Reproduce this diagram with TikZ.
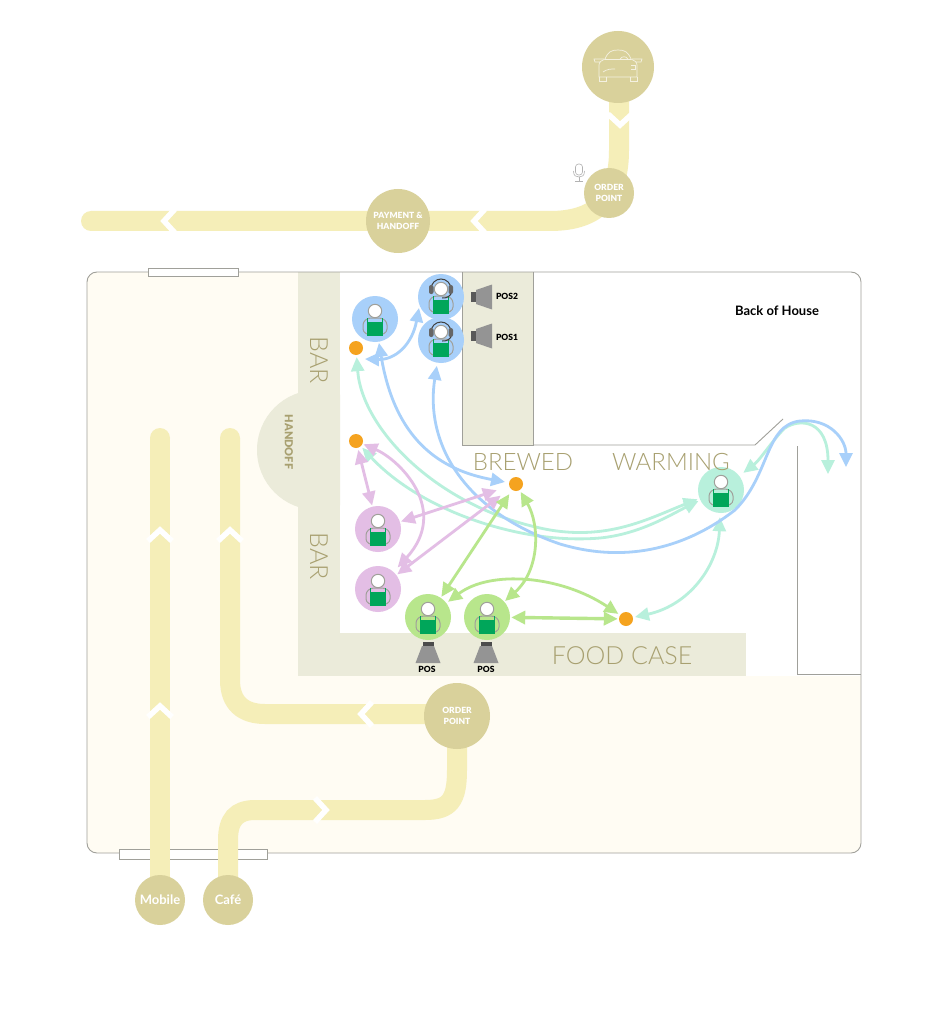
\documentclass[tikz,border=0pt]{standalone}
\usepackage{fontspec}
\setmainfont{Lato}
\newfontfamily\thinfont[UprightFont=* Light]{Lato}
\newfontfamily\heavyfont[UprightFont=* Black]{Lato}
\usetikzlibrary{arrows.meta}

\definecolor{floorcol}{HTML}{FFFCF3}
\definecolor{countercol}{HTML}{EBEBDA}
\definecolor{pathcol}{HTML}{F5EEB8}
\definecolor{stopcol}{HTML}{D9D19B}
\definecolor{labelcol}{HTML}{A8A070}
\definecolor{edgecol}{HTML}{A0A09A}
\definecolor{bluecol}{HTML}{A8D0FA}
\definecolor{mintcol}{HTML}{B8F0DC}
\definecolor{pinkcol}{HTML}{E3BEE5}
\definecolor{limecol}{HTML}{B8E68C}
\definecolor{dotcol}{HTML}{F5A31F}
\definecolor{aproncol}{HTML}{00A65A}

\tikzset{
  route/.style={pathcol,line width=20pt},
  stop/.style={circle,fill=stopcol,inner sep=0pt,minimum size=#1,text=white,align=center,font=\heavyfont\fontsize{8.5}{11}\selectfont},
  staff/.style={circle,fill=#1,inner sep=0pt,minimum size=46pt},
  dot/.style={circle,fill=dotcol,inner sep=0pt,minimum size=14pt},
  area/.style={text=labelcol,font=\thinfont\fontsize{24}{24}\selectfont},
  bar/.style={text=labelcol,rotate=-90,font=\thinfont\fontsize{25}{25}\selectfont},
  tag/.style={text=black,font=\heavyfont\fontsize{8.5}{10}\selectfont},
  wall/.style={edgecol,line width=.9pt},
  flow/.style={#1,line width=2.8pt,{Triangle[length=14pt,width=13pt]}-{Triangle[length=14pt,width=13pt]}},
  chevron/.pic={\draw[white,line width=5.5pt,miter limit=4] (-12,-6) -- (0,5) -- (12,-6);},
  person/.pic={
    \draw[edgecol,line width=1pt,rounded corners=3pt] (-8,-15) -- (-12,-13) -- (-12,-3) -- (-7,1) -- (7,1) -- (12,-3) -- (12,-13) -- (8,-15);
    \fill[aproncol] (-8,-3) rectangle (8,-17);
    \draw[aproncol,line width=1.2pt] (-7.4,-3) -- (-7.4,1) (7.4,-3) -- (7.4,1);
    \draw[edgecol,fill=white,line width=1pt] (0,8) circle (6.7);
  },
  headset/.pic={
    \draw[black!75,line width=1pt] (-10,8) arc (180:0:10);
    \fill[black!60,rounded corners=2pt] (-12,3) rectangle (-7.5,12) (7.5,3) rectangle (12,12);
    \draw[black!75,line width=1pt] (10,3) to[bend left=30] (1,-1);
  },
  speaker/.pic={
    \fill[black!65] (0,-5) rectangle (5,5);
    \fill[black!42] (5,-7) -- (21,-12.5) -- (21,12.5) -- (5,7) -- cycle;
  },
  till/.pic={
    \fill[black!70] (-5.5,0) rectangle (5.5,-5);
    \fill[black!42] (-6,-4) -- (6,-4) -- (12.5,-21) -- (-12.5,-21) -- cycle;
  }
}

\begin{document}
\begin{tikzpicture}[x=1pt,y=1pt]

\useasboundingbox (0,0) rectangle (948,-1024);
\fill[white] (0,0) rectangle (948,-1024);

\fill[floorcol,rounded corners=10pt] (87,-272) rectangle (861,-853);
\fill[white] (340,-272) rectangle (861,-676);
\fill[countercol] (298,-272) rectangle (340,-633);
\fill[countercol] (298,-633) rectangle (746,-676);
\begin{scope}
\clip (240,-380) rectangle (340,-520);
\fill[countercol] (317,-450) circle (60);
\end{scope}
\draw[wall,fill=countercol] (462,-272) -- (462,-445) -- (533,-445) -- (533,-272);
\draw[wall] (533,-445) -- (755,-445) -- (783,-419);
\draw[wall] (797,-446) -- (797,-674) -- (861,-674);
\draw[wall,rounded corners=10pt] (87,-272) rectangle (861,-853);
\draw[wall,fill=white] (148,-268) rectangle (238,-276);
\draw[wall,fill=white] (119,-849) rectangle (267,-859);

\draw[route] (619,-70) -- (619,-150) .. controls (619,-195) and (600,-221) .. (550,-221) -- (91,-221);
\fill[pathcol] (91,-211) arc (90:270:10) -- cycle;
\draw[route] (160,-880) -- (160,-438);
\fill[pathcol] (150,-438) arc (180:0:10) -- cycle;
\draw[route] (230,-438) -- (230,-680) .. controls (230,-703) and (243,-714) .. (265,-714) -- (457,-714) -- (457,-770) .. controls (457,-800) and (450,-810) .. (425,-810) -- (255,-810) .. controls (236,-810) and (228,-820) .. (228,-840) -- (228,-900);
\fill[pathcol] (220,-438) arc (180:0:10) -- cycle;

\pic[rotate=180] at (620,-120) {chevron};
\pic[rotate=90] at (479,-221) {chevron};
\pic[rotate=90] at (169,-221) {chevron};
\pic at (160,-535) {chevron};
\pic at (160,-711) {chevron};
\pic at (230,-535) {chevron};
\pic[rotate=90] at (366,-714) {chevron};
\pic[rotate=-90] at (321,-810) {chevron};

\node[stop=72pt] (carstop) at (618,-67) {};
\node[stop=50pt] (orderdrive) at (609,-193) {ORDER\\POINT};
\node[stop=64pt] (paydrive) at (398,-221) {PAYMENT \&\\HANDOFF};
\node[stop=66pt] (ordercafe) at (457,-716) {ORDER\\POINT};
\node[stop=50pt,font=\bfseries\fontsize{13}{13}\selectfont] (mobile) at (160,-900) {\raisebox{-1.5pt}{Mobile}};
\node[stop=50pt,font=\bfseries\fontsize{13}{13}\selectfont] (cafe) at (228,-900) {\raisebox{-1.5pt}{Café}};

\begin{scope}[shift={(618,-67)},white!70!stopcol,line width=.7pt]
\draw (-19,-10) -- (-19,2) .. controls (-19,5) and (-16,7) .. (-13,8) .. controls (-10,15) and (-7,17) .. (0,17) .. controls (7,17) and (10,15) .. (13,8) .. controls (16,7) and (19,5) .. (19,2) -- (19,-10) -- cycle;
\draw (-14,8) -- (-24,8) -- (-23,5) -- (-18,5) (14,8) -- (24,8) -- (23,5) -- (18,5);
\draw (-13,8) -- (13,8);
\draw (-19,-10) -- (-19,-14) -- (-12,-14) -- (-12,-10) (19,-10) -- (19,-14) -- (12,-14) -- (12,-10);
\draw (-15,-5) .. controls (-11,-2) and (-7,-2) .. (-3,-2);
\draw (2,8) .. controls (4,11) and (8,11) .. (10,8);
\draw (13,-2) -- (17,-2) -- (17,2) -- (13,2);
\end{scope}

\begin{scope}[shift={(579,-172)},black!30,line width=.6pt]
\draw[rounded corners=3pt] (-3.5,-3) rectangle (3.5,8);
\draw (-5.5,1) .. controls (-5.5,-4) and (-3,-5) .. (0,-5) .. controls (3,-5) and (5.5,-4) .. (5.5,1);
\draw (0,-5) -- (0,-9) (-4,-9) -- (4,-9);
\end{scope}

\node[staff=bluecol] (staffbar) at (375,-319) {};
\node[staff=bluecol] (staffpostwo) at (441,-297) {};
\node[staff=bluecol] (staffposone) at (441,-340) {};
\node[staff=pinkcol] (staffpinkone) at (378,-529) {};
\node[staff=pinkcol] (staffpinktwo) at (378,-589) {};
\node[staff=limecol] (stafflimeone) at (428,-617) {};
\node[staff=limecol] (stafflimetwo) at (487,-617) {};
\node[staff=mintcol] (staffmint) at (721,-490) {};

\node[dot] (dotbar) at (356,-348) {};
\node[dot] (dothandoff) at (356,-441) {};
\node[dot] (dotbrewed) at (516,-484) {};
\node[dot] (dotfood) at (626,-619) {};

\foreach \who in {staffbar,staffpostwo,staffposone,staffpinkone,staffpinktwo,stafflimeone,stafflimetwo,staffmint}
  \pic at (\who) {person};
\pic at (staffpostwo) {headset};
\pic at (staffposone) {headset};

\pic at (471,-297) {speaker};
\pic at (471,-336) {speaker};
\pic at (428,-642) {till};
\pic at (486,-642) {till};

\node[tag] (labelpostwo) at (507,-296) {POS2};
\node[tag] (labelposone) at (507,-337) {POS1};
\node[tag] (labeltillone) at (427,-669) {POS};
\node[tag] (labeltilltwo) at (486,-669) {POS};
\node[text=black,font=\bfseries\fontsize{13}{13}\selectfont] (backhouse) at (777,-311) {Back of House};
\node[bar] (barone) at (319,-360) {BAR};
\node[bar] (bartwo) at (319,-556) {BAR};
\node[text=labelcol,rotate=-90,font=\heavyfont\fontsize{11}{11}\selectfont] (handoff) at (289,-442) {HANDOFF};
\node[area] (brewed) at (523,-462) {BREWED};
\node[area] (warming) at (671,-462) {WARMING};
\node[area,font=\thinfont\fontsize{25}{25}\selectfont] (foodcase) at (622,-656) {FOOD CASE};

\coordinate (exitmint) at (828,-474);
\coordinate (exitblue) at (846,-467);
\coordinate (tipbar) at (365,-359);
\coordinate (tippostwo) at (419,-308);

\draw[flow=mintcol,shorten <=2pt,shorten >=2pt] (dotbar) .. controls (362,-430) and (440,-510) .. (550,-530) .. controls (610,-540) and (650,-518) .. (staffmint);
\draw[flow=mintcol,shorten <=2pt,shorten >=2pt] (dothandoff) .. controls (420,-510) and (520,-545) .. (600,-538) .. controls (640,-534) and (670,-515) .. (staffmint);
\draw[flow=mintcol,shorten <=4pt,shorten >=2pt] (staffmint) .. controls (718,-565) and (690,-605) .. (dotfood);
\draw[flow=mintcol,shorten <=5pt] (staffmint) .. controls (760,-460) and (775,-437) .. (785,-428) .. controls (800,-418) and (828,-420) .. (exitmint);

\draw[flow=bluecol,shorten <=1pt,shorten >=4pt] (staffbar) .. controls (395,-440) and (440,-470) .. (dotbrewed);
\draw[flow=bluecol] (tipbar) .. controls (395,-360) and (412,-345) .. (tippostwo);
\draw[flow=bluecol,shorten <=3pt] (staffposone) .. controls (425,-440) and (460,-510) .. (560,-544) .. controls (630,-565) and (690,-545) .. (735,-510) .. controls (770,-475) and (765,-425) .. (800,-421) .. controls (830,-418) and (846,-440) .. (exitblue);

\draw[flow=pinkcol,shorten <=2pt,shorten >=1pt] (dothandoff) -- (staffpinkone);
\draw[flow=pinkcol,shorten <=1pt,shorten >=6pt] (dothandoff) .. controls (400,-460) and (450,-510) .. (staffpinktwo);
\draw[flow=pinkcol,shorten <=1pt,shorten >=13pt] (staffpinkone) -- (dotbrewed);
\draw[flow=pinkcol,shorten <=1pt,shorten >=12pt] (staffpinktwo) -- (dotbrewed);

\draw[flow=limecol,shorten <=1pt,shorten >=5pt] (stafflimeone) -- (dotbrewed);
\draw[flow=limecol,shorten <=1pt,shorten >=2pt] (stafflimetwo) .. controls (540,-570) and (540,-525) .. (dotbrewed);
\draw[flow=limecol,shorten <=2pt,shorten >=2pt] (stafflimeone) .. controls (490,-570) and (560,-575) .. (dotfood);
\draw[flow=limecol,line width=3.4pt,shorten <=1pt,shorten >=1pt] (stafflimetwo) -- (dotfood);

\end{tikzpicture}
\end{document}
